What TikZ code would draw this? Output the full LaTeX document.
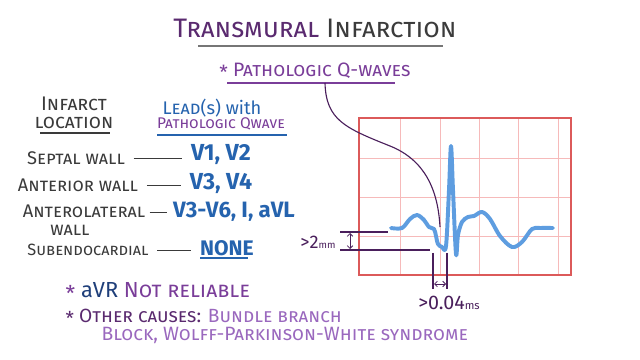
\documentclass[tikz,border=0pt]{standalone}
\usepackage{fontspec}
\setmainfont{Fira Sans}
\usetikzlibrary{positioning,arrows.meta}

\definecolor{titlepurple}{HTML}{5A2A6F}
\definecolor{titlegray}{HTML}{3B3B3B}
\definecolor{midpurple}{HTML}{7A3D99}
\definecolor{lightpurple}{HTML}{9A68BE}
\definecolor{darkpurple}{HTML}{4A1F5C}
\definecolor{leadblue}{HTML}{2563AE}
\definecolor{avrblue}{HTML}{1F3F7A}
\definecolor{txtgray}{HTML}{3A3A3A}
\definecolor{waveblue}{HTML}{5E9DE0}
\definecolor{boxred}{HTML}{DC5A5A}
\definecolor{gridpink}{HTML}{F6BABA}

\begin{document}
\begin{tikzpicture}[x=0.025cm,y=-0.025cm]
\tikzstyle{every node}=[inner sep=1pt];
\tikzstyle{loc}=[text=txtgray,inner sep=0pt,font=\fontsize{13}{13}\selectfont\scshape];
\tikzstyle{lead}=[text=leadblue,font=\fontsize{16.5}{16.5}\selectfont\bfseries];
\tikzstyle{rowline}=[draw=txtgray,line width=0.6pt,shorten <=6pt,shorten >=5pt];
\tikzstyle{meas}=[draw=darkpurple,line width=0.9pt];

\useasboundingbox (0,0) rectangle (640,360);
\fill[white] (0,0) rectangle (640,360);

% title
\node (title) at (315,28) {\fontsize{19}{19}\selectfont\scshape
  {\color{titlepurple}Transmural} {\color{titlegray}Infarction}};
\draw[titlegray!70,line width=1pt] (198,46) -- (443,46);

\node (pq) at (315,71) {\fontsize{13.8}{13.8}\selectfont\color{midpurple}%
  \raisebox{-.3ex}{*} \textsc{Pathologic Q-waves}};
\draw[midpurple,line width=0.9pt] (227,83) -- (395,83);
\coordinate (qtop) at (325,83);

% table head
\node[loc,align=center,font=\fontsize{14}{12.8}\selectfont\scshape] (inf) at (74,113) {Infarct\\location};
\draw[txtgray,line width=1.1pt] (40,133) -- (110,133);
\node (lead1) at (212,108) {\fontsize{13}{13}\selectfont\color{leadblue}\textsc{Lead}(s) with};
\node (lead2) at (221,124) {\fontsize{11}{11}\selectfont\color{midpurple}\textsc{Pathologic Qwave}};
\draw[leadblue,line width=1.1pt] (157,135) -- (287,135);

% rows
\node[loc] (sep) at (76,158) {Septal wall};
\node[lead] (v12) at (221,155) {V1, V2};
\node[loc] (ant) at (78,185) {Anterior wall};
\node[lead] (v34) at (221,184) {V3, V4};
\node[loc,align=center,font=\fontsize{13}{13.2}\selectfont\scshape] (antl) at (84,220) {Anterolateral\\\hspace*{-20pt}wall};
\node[lead,font=\fontsize{15.8}{15.8}\selectfont\bfseries] (v36) at (234,212) {V3-V6, I, aVL};
\node[loc,font=\fontsize{11.6}{11.6}\selectfont\scshape] (sub) at (88,250) {Subendocardial};
\node[lead,font=\fontsize{15}{15}\selectfont\bfseries] (none) at (227,248) {NONE};
\draw[leadblue,line width=1.1pt] (200,258) -- (248,258);

\draw[rowline] (sep.east) -- (sep.east -| v12.west);
\draw[rowline] (ant.east) -- (ant.east -| v34.west);
\draw[rowline,shorten <=3pt,shorten >=3pt] (v36.west -| antl.east) -- (v36.west);
\draw[rowline] (sub.east) -- (sub.east -| none.west);

% ecg paper
\draw[gridpink,line width=0.6pt] foreach \x in {400,440,479,518,558} {(\x,118) -- (\x,275)};
\draw[gridpink,line width=0.6pt] foreach \y in {158,197,236} {(359,\y) -- (571,\y)};
\draw[boxred,line width=1.5pt] (359,118) rectangle (571,275);

\draw[waveblue,line width=2.8pt,line cap=round,line join=round]
  plot[smooth,tension=0.55] coordinates {(391,228) (402,228) (410,219) (417,215)
  (424,220) (429,227) (434,229) (436,236) (438,244) (442,247) (446,246) (449,190)
  (451,146) (453,190) (456,254) (458,235) (462,222) (468,217) (474,216) (482,212)
  (490,219) (500,236) (512,247) (522,242) (532,229) (540,228) (553,228)};
\coordinate (qw) at (440,227);

\draw[darkpurple,line width=0.8pt] (qtop) .. controls (326,120) and (345,128) .. (390,146)
  .. controls (425,160) and (438,190) .. (qw);

% measurements
\coordinate (m1) at (340,232);
\coordinate (m2) at (340,250);
\draw[meas] (m1) -- +(48,0);
\draw[meas] (m2) -- +(90,0);
\draw[meas,{Straight Barb[length=2pt]}-{Straight Barb[length=2pt]},line width=0.6pt] (350,233) -- (350,249);
\node (mm) at (318,242) {\color{darkpurple}\fontsize{13}{13}\selectfont >2\fontsize{7}{7}\selectfont mm};

\coordinate (t1) at (433,253);
\coordinate (t2) at (447,253);
\draw[meas] (t1) -- +(0,36);
\draw[meas] (t2) -- +(0,36);
\draw[meas,{Straight Barb[length=2pt]}-{Straight Barb[length=2pt]},line width=0.6pt] (434,284) -- (446,284);
\node (ms) at (449,303) {\color{darkpurple}\fontsize{14}{14}\selectfont >0.04\fontsize{8}{8}\selectfont ms};

% notes
\node[anchor=west] (n1) at (64,292) {\fontsize{15.5}{15.5}\selectfont\color{midpurple}%
  \raisebox{-.3ex}{*} {\color{avrblue}aVR} \textsc{Not reliable}};
\node[anchor=west] (n2) at (64,317) {\fontsize{13.6}{13.6}\selectfont\color{titlepurple}%
  \raisebox{-.3ex}{*} \textsc{Other causes:} {\color{lightpurple}\textsc{Bundle branch}}};
\node[anchor=west] (n3) at (100,335) {\fontsize{13.7}{13.7}\selectfont\color{lightpurple}%
  \textsc{Block, Wolff-Parkinson-White syndrome}};
\end{tikzpicture}
\end{document}
